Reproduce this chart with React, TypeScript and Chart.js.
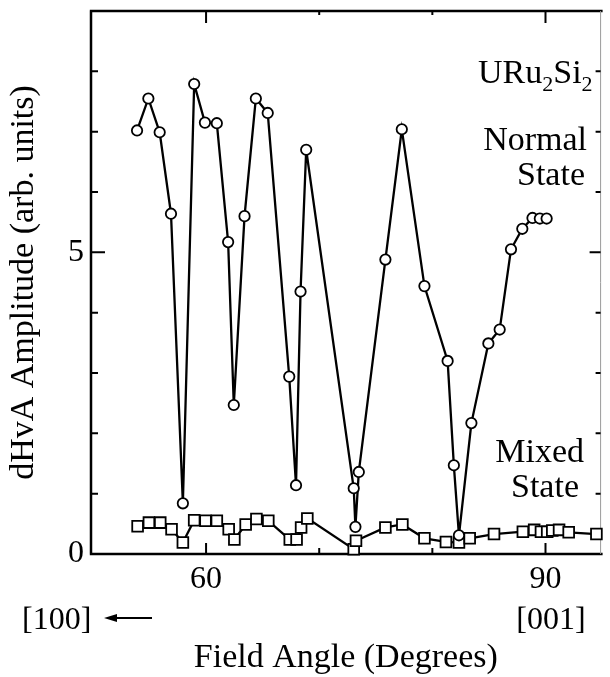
import React, { useEffect, useRef } from "react";
import { Chart, registerables } from "chart.js";

Chart.register(...registerables);

const FONT = '"Liberation Serif", "Times New Roman", serif';

// Normal state (circles)
const normalAngles = [53.9, 54.9, 55.9, 56.9, 57.95, 58.95, 59.9, 60.95, 61.95, 62.45, 63.4, 64.4, 65.45, 67.35, 67.95, 68.35, 68.85, 73.05, 73.2, 73.5, 75.85, 77.3, 79.3, 81.35, 81.9, 82.35, 83.45, 84.95, 85.95, 86.95, 87.95, 88.85, 89.5, 90.1];
const normalAmp = [7.02, 7.55, 6.99, 5.64, 0.84, 7.79, 7.15, 7.14, 5.17, 2.47, 5.6, 7.55, 7.31, 2.94, 1.14, 4.35, 6.7, 1.09, 0.45, 1.36, 4.88, 7.04, 4.44, 3.2, 1.47, 0.31, 2.17, 3.49, 3.72, 5.05, 5.39, 5.57, 5.56, 5.56];

// Mixed state (squares)
const mixedAngles = [53.95, 54.95, 55.95, 56.95, 57.95, 58.95, 59.95, 60.95, 62.0, 62.5, 63.5, 64.45, 65.5, 67.4, 68.0, 68.4, 68.95, 73.05, 73.25, 75.85, 77.35, 79.3, 81.2, 82.35, 83.3, 85.45, 88.0, 89.0, 89.6, 90.15, 90.6, 91.2, 92.05, 94.5];
const mixedAmp = [0.46, 0.52, 0.52, 0.41, 0.19, 0.56, 0.55, 0.55, 0.41, 0.24, 0.49, 0.58, 0.55, 0.24, 0.24, 0.44, 0.59, 0.08, 0.22, 0.44, 0.49, 0.26, 0.2, 0.19, 0.26, 0.33, 0.37, 0.4, 0.37, 0.37, 0.39, 0.4, 0.36, 0.33];

// Axes
const xMin = 49.83;
const xMax = 94.87;
const yMin = 0;
const yMax = 9;
const xLabelTicks = [60, 90];
const xMinorTicks = [70, 80];
const yLabelTicks = [0, 5];
const yMinorTicks = [1, 2, 3, 4, 6, 7, 8];

const xTitle = "Field Angle (Degrees)";
const yTitle = "dHvA Amplitude (arb. units)";

const decorPlugin = {
  id: "decor",
  beforeDatasetsDraw(chart: any) {
    const { ctx, chartArea: a, scales } = chart;
    const x = scales.x;
    const y = scales.y;
    ctx.save();
    ctx.strokeStyle = "#000";
    ctx.lineCap = "butt";
    ctx.lineWidth = 2.5;
    ctx.beginPath();
    ctx.moveTo(a.left, a.top);
    ctx.lineTo(a.left, a.bottom);
    ctx.moveTo(a.left - 1.2, a.bottom);
    ctx.lineTo(a.right + 2, a.bottom);
    ctx.moveTo(a.left - 1.2, a.top);
    ctx.lineTo(a.right + 2, a.top);
    ctx.stroke();
    // right thin border
    ctx.strokeStyle = "#9a9a9a";
    ctx.lineWidth = 1;
    ctx.beginPath();
    ctx.moveTo(a.right, a.top);
    ctx.lineTo(a.right, a.bottom);
    ctx.stroke();

    ctx.strokeStyle = "#000";
    ctx.lineWidth = 2;
    ctx.beginPath();
    for (const v of xLabelTicks) {
      const px = x.getPixelForValue(v);
      ctx.moveTo(px, a.bottom);
      ctx.lineTo(px, a.bottom - 11);
      ctx.moveTo(px, a.top);
      ctx.lineTo(px, a.top + 12);
    }
    for (const v of xMinorTicks) {
      const px = x.getPixelForValue(v);
      ctx.moveTo(px, a.bottom);
      ctx.lineTo(px, a.bottom - 6);
      ctx.moveTo(px, a.top);
      ctx.lineTo(px, a.top + 4);
    }
    for (const v of yLabelTicks) {
      if (v === yMin) continue;
      const py = y.getPixelForValue(v);
      ctx.moveTo(a.left, py);
      ctx.lineTo(a.left + 14, py);
      ctx.moveTo(a.right, py);
      ctx.lineTo(a.right - 11, py);
    }
    for (const v of yMinorTicks) {
      const py = y.getPixelForValue(v);
      ctx.moveTo(a.left, py);
      ctx.lineTo(a.left + 7, py);
      ctx.moveTo(a.right, py);
      ctx.lineTo(a.right - 5, py);
    }
    ctx.stroke();
    ctx.restore();
  },
  afterDraw(chart: any) {
    const { ctx } = chart;
    ctx.save();
    ctx.fillStyle = "#000";
    ctx.strokeStyle = "#000";
    ctx.textBaseline = "alphabetic";
    const big = `34px ${FONT}`;
    const mid = `32px ${FONT}`;
    const sub = `22px ${FONT}`;

    // direction labels
    ctx.font = mid;
    ctx.textAlign = "left";
    ctx.fillText("[100]", 22, 629);
    ctx.textAlign = "center";
    ctx.fillText("[001]", 551, 629);

    // arrow pointing left
    ctx.lineWidth = 2;
    ctx.beginPath();
    ctx.moveTo(152, 618);
    ctx.lineTo(112, 618);
    ctx.stroke();
    ctx.beginPath();
    ctx.moveTo(104, 618);
    ctx.lineTo(117, 614);
    ctx.lineTo(117, 622);
    ctx.closePath();
    ctx.fill();

    // URu2Si2
    ctx.textAlign = "left";
    let cx = 478;
    const parts: [string, boolean][] = [["URu", false], ["2", true], ["Si", false], ["2", true]];
    for (const [t, isSub] of parts) {
      ctx.font = isSub ? sub : big;
      ctx.fillText(t, cx, isSub ? 91 : 83);
      cx += ctx.measureText(t).width;
    }

    ctx.font = big;
    ctx.textAlign = "right";
    ctx.fillText("Normal", 587, 150);
    ctx.fillText("State", 585, 185);
    ctx.fillText("Mixed", 584, 462);
    ctx.fillText("State", 579, 497);
    ctx.restore();
  },
};

export default function App() {
  const ref = useRef<HTMLCanvasElement | null>(null);

  useEffect(() => {
    if (!ref.current) return;
    const normalData = normalAngles.map((a, i) => ({ x: a, y: normalAmp[i] }));
    const mixedData = mixedAngles.map((a, i) => ({ x: a, y: mixedAmp[i] }));

    const chart = new Chart(ref.current, {
      type: "scatter",
      data: {
        datasets: [
          {
            label: "Normal State",
            data: normalData,
            showLine: true,
            borderColor: "#000",
            borderWidth: 2.3,
            pointStyle: "circle",
            pointRadius: 5.2,
            pointBorderWidth: 1.8,
            pointBackgroundColor: "#fff",
            pointBorderColor: "#000",
            clip: false,
          } as any,
          {
            label: "Mixed State",
            data: mixedData,
            showLine: true,
            borderColor: "#000",
            borderWidth: 2.3,
            pointStyle: "rect",
            pointRadius: 7.6,
            pointBorderWidth: 1.8,
            pointBackgroundColor: "#fff",
            pointBorderColor: "#000",
            clip: false,
          } as any,
        ],
      },
      options: {
        animation: false,
        responsive: false,
        devicePixelRatio: 1,
        layout: { padding: { top: 11, right: 1, bottom: 0, left: 0 } },
        plugins: {
          legend: { display: false },
          tooltip: { enabled: false },
        },
        scales: {
          x: {
            type: "linear",
            min: xMin,
            max: xMax,
            afterBuildTicks: (s: any) => {
              s.ticks = xLabelTicks.map((v) => ({ value: v }));
            },
            afterFit: (s: any) => {
              s.height = 123;
              s.paddingLeft = 0;
              s.paddingRight = 0;
            },
            ticks: {
              autoSkip: false,
              maxRotation: 0,
              minRotation: 0,
              padding: 6,
              color: "#000",
              font: { family: FONT, size: 32 },
              callback: (v: any) => String(v),
            },
            grid: { display: false, drawTicks: false },
            border: { display: false },
            title: {
              display: true,
              text: xTitle,
              color: "#000",
              font: { family: FONT, size: 34, lineHeight: 1.05 },
              padding: { top: 0, bottom: 1 },
            },
          },
          y: {
            type: "linear",
            min: yMin,
            max: yMax,
            afterBuildTicks: (s: any) => {
              s.ticks = yLabelTicks.map((v) => ({ value: v }));
            },
            afterFit: (s: any) => {
              s.width = 91;
              s.paddingTop = 0;
              s.paddingBottom = 0;
            },
            ticks: {
              autoSkip: false,
              padding: 7,
              color: "#000",
              font: { family: FONT, size: 32 },
              callback: (v: any) => String(v),
            },
            grid: { display: false, drawTicks: false },
            border: { display: false },
            title: {
              display: true,
              text: yTitle,
              color: "#000",
              font: { family: FONT, size: 34 },
              padding: { top: 4, bottom: 0 },
            },
          },
        },
      },
      plugins: [decorPlugin],
    });
    return () => chart.destroy();
  }, []);

  return (
    <div style={{ position: "fixed", left: 0, top: 0, width: 610, height: 677, background: "#fff", overflow: "hidden" }}>
      <canvas ref={ref} width={610} height={677} style={{ display: "block" }} />
    </div>
  );
}
